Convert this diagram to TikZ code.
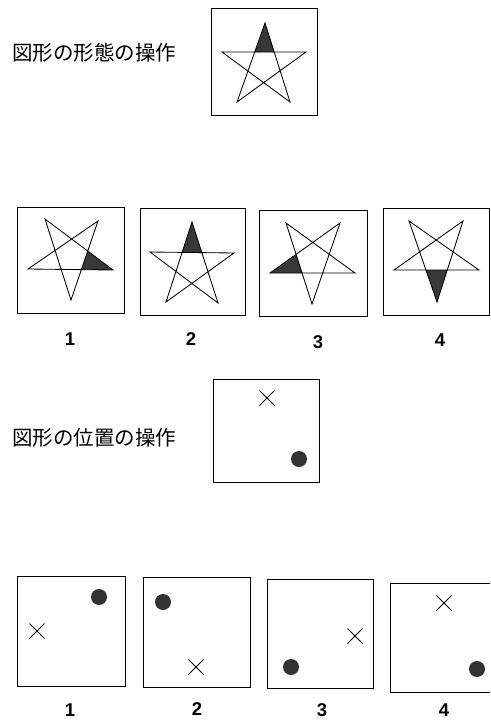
\documentclass[tikz,border=0pt]{standalone}
\usepackage{fontspec}
\setmainfont{Liberation Sans}
\newfontfamily\jpfont{Noto Sans CJK JP}
\begin{document}
\begin{tikzpicture}[x=1pt,y=-1pt,
  frame/.style={draw=black,line width=0.9pt},
  starline/.style={draw=black,line width=0.85pt,line join=miter},
  tipfill/.style={fill=black!78},
  dotmark/.style={fill=black!80,draw=none},
  crossmark/.style={draw=black,line width=0.8pt},
  jplabel/.style={font=\jpfont\fontsize{20.5}{24}\selectfont,anchor=west,inner sep=0pt},
  numlabel/.style={font=\bfseries\fontsize{18.5}{22}\selectfont,inner sep=0pt}]
\useasboundingbox (0,0) rectangle (490,720);
% pentagram: #1 shaded tip, #2..#5 the other vertices in circular order
\newcommand\mystar[5]{%
  \coordinate (pa) at #1; \coordinate (pb) at #2; \coordinate (pc) at #3;
  \coordinate (pd) at #4; \coordinate (pe) at #5;
  \fill[tipfill] (pa) -- (intersection of pa--pc and pb--pe) -- (intersection of pa--pd and pb--pe) -- cycle;
  \draw[starline] (pa) -- (pc) -- (pe) -- (pb) -- (pd) -- cycle;}
% ---- top part
\node[jplabel] (t1) at (12,53) {図形の形態の操作};
\draw[frame] (211,8) rectangle (317,115);
\mystar{(265,23)}{(306,52)}{(290,102)}{(237,102)}{(222,52)}
% row 1
\draw[frame] (17,207) rectangle (124,313);
\mystar{(113,270)}{(71,300)}{(28,269)}{(45,219)}{(98,221)}
\draw[frame] (140,208) rectangle (245,315);
\mystar{(192,222)}{(234,253)}{(218,303)}{(166,302)}{(150,252)}
\draw[frame] (259,210) rectangle (367,316);
\mystar{(270,273)}{(286,223)}{(340,223)}{(355,273)}{(312,304)}
\draw[frame] (383,208) rectangle (489,315);
\mystar{(437,302)}{(394,270)}{(409,221)}{(463,221)}{(479,270)}
\node[numlabel] (n1) at (70,339) {1};
\node[numlabel] (n2) at (191,339) {2};
\node[numlabel] (n3) at (318,342) {3};
\node[numlabel] (n4) at (440,340) {4};
% ---- bottom part
\node[jplabel] (t2) at (12,438) {図形の位置の操作};
\draw[frame] (213,379) rectangle (319,482);
\draw[crossmark] (259.5,390.5) -- (274.5,405.5) (259.5,405.5) -- (274.5,390.5);
\fill[dotmark] (299,459) circle (8);
% row 2
\draw[frame] (17,576) rectangle (125,686);
\fill[dotmark] (99,597) circle (8);
\draw[crossmark] (29.5,623.5) -- (44.5,638.5) (29.5,638.5) -- (44.5,623.5);
\draw[frame] (143,577) rectangle (250,687);
\fill[dotmark] (163,602) circle (8);
\draw[crossmark] (188.5,659.5) -- (203.5,674.5) (188.5,674.5) -- (203.5,659.5);
\draw[frame] (267,579) rectangle (373,688);
\fill[dotmark] (291,667) circle (8);
\draw[crossmark] (347.5,628.5) -- (362.5,643.5) (347.5,643.5) -- (362.5,628.5);
\draw[frame] (490,583) -- (390,583) -- (390,692) -- (490,692);
\draw[crossmark] (436.5,595.5) -- (451.5,610.5) (436.5,610.5) -- (451.5,595.5);
\fill[dotmark] (477,669) circle (8);
\node[numlabel] (m1) at (70,710) {1};
\node[numlabel] (m2) at (197,709) {2};
\node[numlabel] (m3) at (322,710) {3};
\node[numlabel] (m4) at (444,710) {4};
\end{tikzpicture}
\end{document}
